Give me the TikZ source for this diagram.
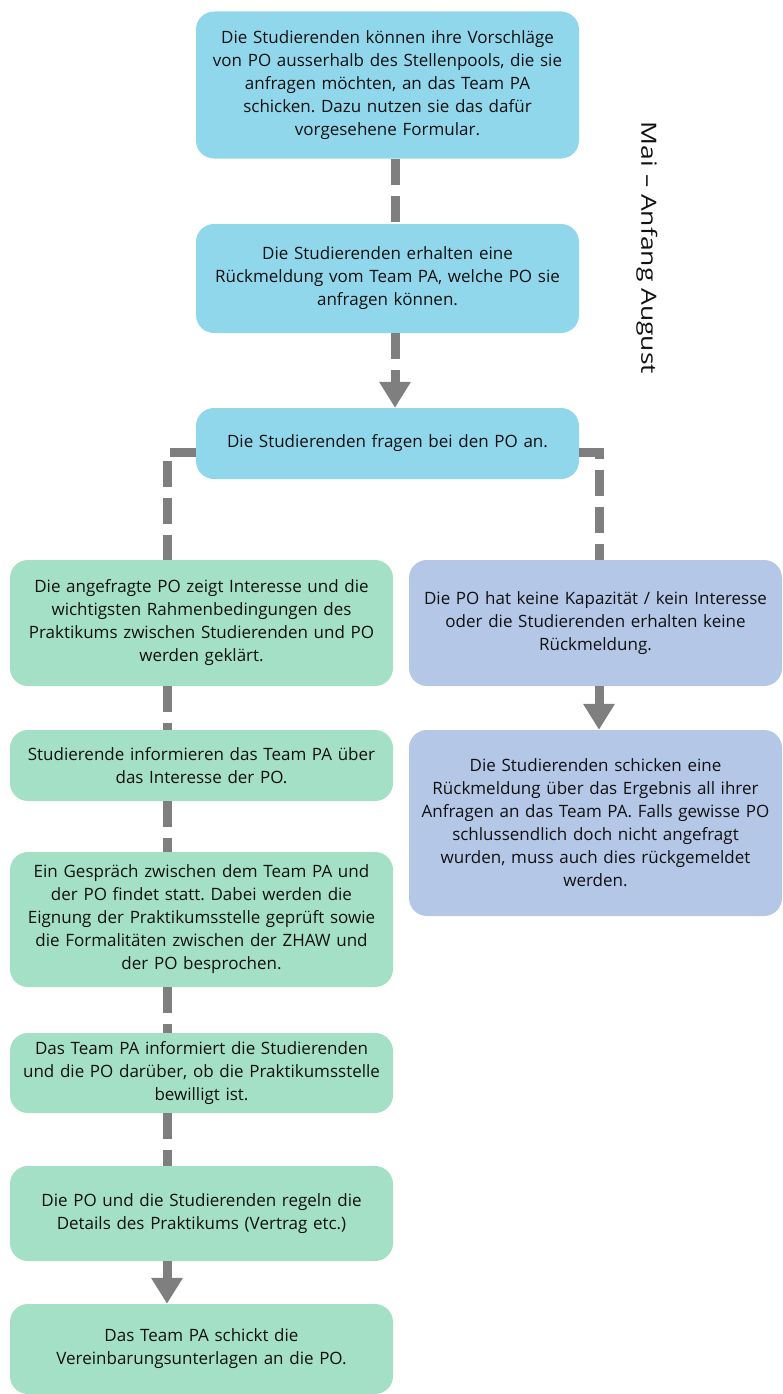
\documentclass[tikz,border=0pt]{standalone}
\usepackage{fontspec}
\setmainfont{Open Sans}
\usetikzlibrary{arrows.meta}
\frenchspacing
\definecolor{cblue}{HTML}{90D7EC}
\definecolor{cgreen}{HTML}{A3E0C5}
\definecolor{cperi}{HTML}{B4C7E7}
\definecolor{cgray}{HTML}{7F7F7F}
\definecolor{ctext}{HTML}{111111}
\tikzset{
  box/.style={rounded corners=18pt, minimum width=383pt, align=center, text=ctext,
    font=\fontsize{17pt}{23pt}\selectfont\frenchspacing, inner sep=0pt, text width=378pt},
  bluebox/.style={box, fill=cblue},
  greenbox/.style={box, fill=cgreen},
  peribox/.style={box, fill=cperi, minimum width=373pt, text width=368pt},
  dashline/.style={draw=cgray, line width=9pt, dash pattern=on 26pt off 11pt},
  solidline/.style={draw=cgray, line width=9pt},
  bigtip/.style={-{Triangle[width=30pt,length=26pt]}},
}
\begin{document}
\begin{tikzpicture}[x=1pt,y=1pt]
\useasboundingbox (0,0) rectangle (782,-1394);
% column coordinates
\coordinate (cm) at (395,0);
\coordinate (cl) at (167,0);
\coordinate (cr) at (599,0);
% nodes
\node[bluebox, minimum height=147pt] (n1) at (387.5,-85)
  {Die Studierenden können ihre Vorschläge\\von PO ausserhalb des Stellenpools, die sie\\anfragen möchten, an das Team PA\\schicken. Dazu nutzen sie das dafür\\vorgesehene Formular.};
\node[bluebox, minimum height=109pt] (n2) at (387.5,-278.5)
  {Die Studierenden erhalten eine\\Rückmeldung vom Team PA, welche PO sie\\anfragen können.};
\node[bluebox, minimum height=71pt] (n3) at (387.5,-443.5)
  {Die Studierenden fragen bei den PO an.};
\node[greenbox, minimum height=126pt] (a) at (201.5,-623)
  {Die angefragte PO zeigt Interesse und die\\wichtigsten Rahmenbedingungen des\\Praktikums zwischen Studierenden und PO\\werden geklärt.};
\node[greenbox, minimum height=71pt] (b) at (201.5,-765.5)
  {Studierende informieren das Team PA über\\das Interesse der PO.};
\node[greenbox, minimum height=135pt] (c) at (201.5,-919.5)
  {Ein Gespräch zwischen dem Team PA und\\der PO findet statt. Dabei werden die\\Eignung der Praktikumsstelle geprüft sowie\\die Formalitäten zwischen der ZHAW und\\der PO besprochen.};
\node[greenbox, minimum height=80pt] (d) at (201.5,-1073)
  {Das Team PA informiert die Studierenden\\und die PO darüber, ob die Praktikumsstelle\\bewilligt ist.};
\node[greenbox, minimum height=95pt] (e) at (201.5,-1213.5)
  {Die PO und die Studierenden regeln die\\Details des Praktikums (Vertrag etc.)};
\node[greenbox, minimum height=90pt] (f) at (201.5,-1349)
  {Das Team PA schickt die\\Vereinbarungsunterlagen an die PO.};
\node[peribox, minimum height=126pt] (r1) at (595.5,-623)
  {Die PO hat keine Kapazität / kein Interesse\\oder die Studierenden erhalten keine\\Rückmeldung.};
\node[peribox, minimum height=186pt] (r2) at (595.5,-823)
  {Die Studierenden schicken eine\\Rückmeldung über das Ergebnis all ihrer\\Anfragen an das Team PA. Falls gewisse PO\\schlussendlich doch nicht angefragt\\wurden, muss auch dies rückgemeldet\\werden.};
% side label
\node[rotate=-90, font=\fontsize{21pt}{26pt}\selectfont, text=ctext, inner sep=0pt] (side) at (647,-248)
  {\scalebox{1.26}[1]{Mai – Anfang August}};
% connectors
\draw[dashline] (n1.south -| cm) -- (n2.north -| cm);
\draw[dashline, bigtip] (n2.south -| cm) -- (n3.north -| cm);
\draw[dashline] ([yshift=-9pt]n3.west) -| (a.north -| cl);
\draw[dashline] ([yshift=-9pt]n3.east) -| (r1.north -| cr);
\draw[dashline] (a.south -| cl) -- (b.north -| cl);
\draw[dashline] (b.south -| cl) -- (c.north -| cl);
\draw[dashline] (c.south -| cl) -- (d.north -| cl);
\draw[dashline] (d.south -| cl) -- (e.north -| cl);
\draw[solidline, bigtip] (e.south -| cl) -- (f.north -| cl);
\draw[solidline, bigtip] (r1.south -| cr) -- (r2.north -| cr);
\end{tikzpicture}
\end{document}
